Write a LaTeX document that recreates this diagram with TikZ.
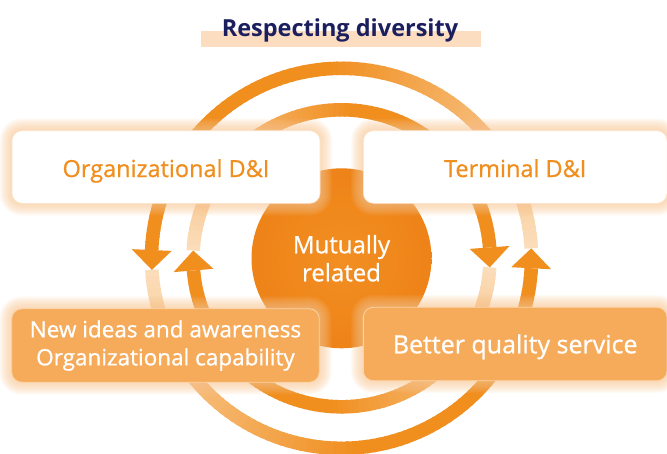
\documentclass[tikz,border=0pt]{standalone}
\usepackage{fontspec}
\setmainfont{Open Sans}
\newfontfamily\medfont[FakeBold=0.8]{Open Sans}
\usetikzlibrary{calc}
\definecolor{brand}{HTML}{F08E1E}
\definecolor{ringlight}{HTML}{FBDDBA}
\definecolor{circin}{HTML}{F28F22}
\definecolor{circout}{HTML}{EE8318}
\definecolor{boxfill}{HTML}{F6AB5B}
\definecolor{boxedge}{HTML}{FBD3A6}
\definecolor{glowc}{HTML}{F8C692}
\definecolor{navy}{HTML}{1C1F5E}
\definecolor{band}{HTML}{FCDDBF}
\definecolor{wedge}{HTML}{FBE2C8}

\pgfdeclarelayer{ringlayer}
\pgfdeclarelayer{glowlayer}
\pgfsetlayers{ringlayer,glowlayer,main}

\def\cx{341.5}
\def\cy{258.3}

% radius, start angle (tip), length (deg), direction (+1/-1)
\newcommand\gradarc[4]{%
  \foreach \s in {0,2,...,#3}{%
    \pgfmathsetmacro\gT{min(\s/90,1)*100}%
    \pgfmathsetmacro\gA{#2+#4*\s}%
    \pgfmathsetmacro\gB{#2+#4*min(\s+2.6,#3)}%
    \pgfmathsetmacro\gL{min(\gA,\gB)}%
    \pgfmathsetmacro\gH{max(\gA,\gB)}%
    \draw[line width=13.5pt, draw=brand!\gT!ringlight]
      plot[domain=\gL:\gH, samples=4] ({\cx+#1*cos(\x)},{\cy+#1*sin(\x)});
  }}
% radius, tip angle, base angle
\newcommand\ringhead[3]{%
  \fill[brand] ({\cx+#1*cos(#2)},{\cy+#1*sin(#2)})
    -- ({\cx+(#1+20)*cos(#3)},{\cy+(#1+20)*sin(#3)})
    -- ({\cx+(#1-20)*cos(#3)},{\cy+(#1-20)*sin(#3)}) -- cycle;}

\tikzset{
  wbox/.style={rectangle, rounded corners=10pt, fill=white, draw=wedge,
    line width=0.6pt, text=brand, font=\medfont\fontsize{23.5}{28}\selectfont,
    inner sep=0pt},
  obox/.style={rectangle, rounded corners=10pt, fill=boxfill, draw=boxedge,
    line width=0.8pt, text=white, inner sep=0pt, align=center},
}

\begin{document}
\begin{tikzpicture}[x=1pt,y=-1pt]
\useasboundingbox (0,0) rectangle (667,453);

% title
\fill[band] (201,31) rectangle (481,47);
\node[anchor=base, text=navy, font=\bfseries\fontsize{23.5}{28}\selectfont, inner sep=0pt]
  (title) at (340,36) {Respecting diversity};

% boxes
\node[wbox, minimum width=308pt, minimum height=72.6pt, text height=20pt, text depth=0pt]
  (orgdi) at (166,167) {Organizational D\&I};
\node[wbox, minimum width=303.7pt, minimum height=72.6pt, text height=20pt, text depth=0pt]
  (termdi) at (515.2,167) {Terminal D\&I};
\node[obox, minimum width=307.6pt, minimum height=73.4pt, font=\medfont\fontsize{22.5}{28}\selectfont]
  (ideas) at (165.5,345.5) {New ideas and awareness\\Organizational capability};
\node[obox, minimum width=303.7pt, minimum height=73.4pt, text height=18.6pt, text depth=0pt,
  font=\medfont\fontsize{25}{30}\selectfont]
  (service) at (515.2,344) {Better quality service};

\begin{pgfonlayer}{ringlayer}
  % outer ring (counter-clockwise on screen)
  \gradarc{190}{176.5}{173.5}{-1}
  \gradarc{190}{357}{174.5}{-1}
  \ringhead{190}{176.5}{182.5}
  \ringhead{190}{357}{363}
  % inner ring (clockwise on screen)
  \gradarc{148.5}{183}{172.8}{1}
  \gradarc{148.5}{3.5}{171.8}{1}
  \ringhead{148.5}{183}{175.3}
  \ringhead{148.5}{3.5}{-4.2}
  % centre
  \node[circle, minimum size=180pt, inner sep=0pt, inner color=circin, outer color=circout,
    text=white, align=center, font=\medfont\fontsize{24}{28}\selectfont]
    (mutual) at (\cx,\cy) {Mutually\\related};
\end{pgfonlayer}

\begin{pgfonlayer}{glowlayer}
  \foreach \b in {orgdi,termdi,ideas,service}{
    \foreach \i in {1,...,12}{
      \pgfmathsetmacro\rr{10+\i}
      \fill[glowc, opacity=0.08, rounded corners=\rr pt]
        ([shift={(-\i,-\i)}]\b.north west) rectangle ([shift={(\i,\i)}]\b.south east);
    }
  }
\end{pgfonlayer}
\end{tikzpicture}
\end{document}
